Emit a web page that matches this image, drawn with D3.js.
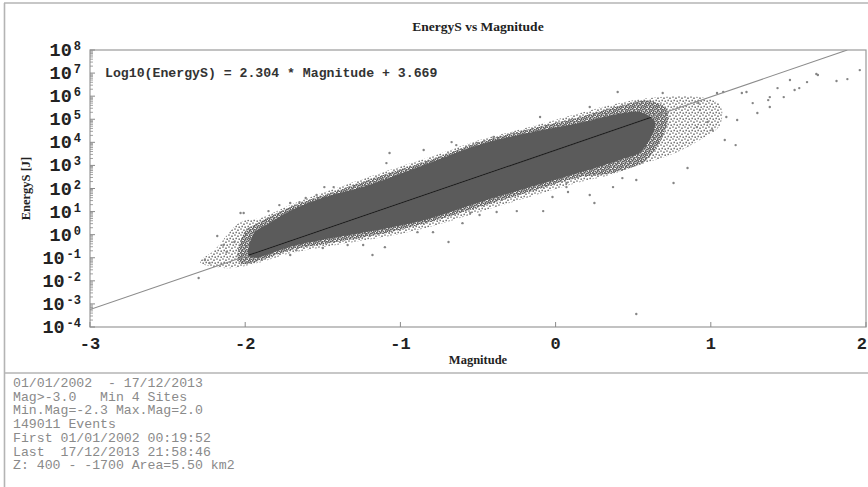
<!DOCTYPE html>
<html>
<head>
<meta charset="utf-8">
<script src="https://cdn.jsdelivr.net/npm/d3@7/dist/d3.min.js"></script>
<style>
  html, body { margin: 0; padding: 0; background: #fff; }
  svg { display: block; }
</style>
</head>
<body>
<script>
// ---------- data ----------
const chartTitle = "EnergyS vs Magnitude";
const xLabel = "Magnitude";
const yLabel = "EnergyS [J]";

// least-squares fit: log10(EnergyS) = slope * Magnitude + intercept
const fitSlope = 2.304;
const fitIntercept = 3.669;

const magTicks = [-3, -2, -1, 0, 1, 2];
const energyExponents = [-4, -3, -2, -1, 0, 1, 2, 3, 4, 5, 6, 7, 8];

// envelope of the solid, saturated part of the cloud (magnitude, log10 energy)
const coreUpperMag = [-1.98, -1.94, -1.84, -1.71, -1.50, -1.26, -1.07, -0.81, -0.49, -0.17, 0.16, 0.42, 0.55, 0.64];
const coreUpperLog = [-0.88, 0.08, 0.52, 1.04, 1.60, 2.03, 2.47, 3.12, 3.90, 4.42, 4.85, 5.25, 5.30, 4.85];
const coreLowerMag = [0.55, 0.42, 0.16, -0.17, -0.49, -0.81, -1.07, -1.50, -1.71, -1.94];
const coreLowerLog = [3.60, 3.25, 2.70, 2.05, 1.40, 0.70, 0.30, -0.22, -0.52, -1.00];

// dense speckled band hugging the core
const innerUpperMag = [-2.05, -2.00, -1.92, -1.71, -1.45, -1.07, -0.81, -0.49, -0.17, 0.16, 0.41, 0.60, 0.72];
const innerUpperLog = [-0.95, 0.15, 0.50, 1.20, 1.80, 2.67, 3.23, 4.01, 4.58, 5.10, 5.57, 5.80, 5.40];
const innerLowerMag = [0.70, 0.58, 0.48, 0.29, 0.16, -0.17, -0.49, -0.81, -1.07, -1.45, -1.71, -1.94, -2.03];
const innerLowerLog = [4.40, 3.20, 2.89, 2.58, 2.50, 1.85, 1.20, 0.55, 0.11, -0.36, -0.67, -1.19, -1.25];

// thin outer fringe
const fringeUpperMag = [-2.29, -2.20, -2.03, -1.90, -1.71, -1.45, -1.07, -0.81, -0.49, -0.17, 0.16, 0.41, 0.67, 0.93, 1.06];
const fringeUpperLog = [-1.19, -0.67, 0.55, 0.72, 1.28, 1.93, 2.80, 3.36, 4.10, 4.66, 5.27, 5.70, 5.96, 5.96, 5.62];
const fringeLowerMag = [1.06, 0.93, 0.74, 0.54, 0.35, 0.16, -0.17, -0.49, -0.81, -1.07, -1.45, -1.71, -1.90, -2.10];
const fringeLowerLog = [4.75, 4.10, 3.45, 3.02, 2.58, 2.28, 1.63, 0.98, 0.33, -0.06, -0.49, -0.80, -1.19, -1.45];

// isolated events outside the cloud
const outlierMag = [-2.30, -2.26, -2.23, -2.18, -2.14, -2.12, -2.07, -2.03, -2.01, -1.99, -1.85, -1.78, -1.71, -1.71, -1.67,
  -1.65, -1.61, -1.54, -1.50, -1.49, -1.43, -1.34, -1.24, -1.18, -1.10, -1.09, -1.07, -0.89, -0.85, -0.79,
  -0.69, -0.67, -0.64, -0.60, -0.55, -0.50, -0.49, -0.40, -0.38, -0.27, -0.25, -0.10, -0.08, -0.02, 0.07,
  0.07, 0.08, 0.09, 0.14, 0.22, 0.22, 0.25, 0.37, 0.40, 0.43, 0.52, 0.52, 0.52, 0.69, 0.76,
  0.85, 0.91, 0.92, 0.93, 0.98, 1.01, 1.04, 1.08, 1.09, 1.10, 1.16, 1.17, 1.20, 1.23, 1.27,
  1.30, 1.37, 1.38, 1.38, 1.43, 1.47, 1.51, 1.54, 1.57, 1.62, 1.68, 1.69, 1.81, 1.88, 1.96];
const outlierLog = [-1.88, -1.10, -1.23, -0.06, -0.45, -0.75, -0.32, 0.94, 0.94, -1.19, 1.02, 1.28, 1.37, -0.88, -0.67,
  1.41, 1.59, 1.72, -0.58, 2.06, 2.06, -0.45, -0.45, -0.88, -0.54, 3.10, 3.54, 0.11, 3.67, 0.11,
  -0.32, 4.01, 3.88, 0.50, 0.94, 3.97, 0.85, 4.23, 0.98, 4.40, 1.02, 5.10, 1.02, 1.63, 2.24,
  2.06, 1.85, 4.97, 2.50, 5.53, 1.72, 1.37, 2.06, 6.18, 2.45, 5.70, 2.37, -3.44, 6.14, 2.24,
  2.89, 4.66, 5.70, 5.40, 4.88, 4.53, 6.14, 6.18, 4.10, 5.10, 3.88, 4.97, 6.14, 6.18, 5.70,
  5.27, 5.83, 5.96, 5.53, 6.35, 5.96, 6.70, 6.27, 6.35, 6.61, 6.96, 6.92, 6.66, 6.74, 7.13];

const infoLines = [
  "01/01/2002  - 17/12/2013",
  "Mag>-3.0   Min 4 Sites",
  "Min.Mag=-2.3 Max.Mag=2.0",
  "149011 Events",
  "First 01/01/2002 00:19:52",
  "Last  17/12/2013 21:58:46",
  "Z: 400 - -1700 Area=5.50 km2"
];

// ---------- layout ----------
const W = 868, H = 487;
const plot = { left: 90, right: 866, top: 50, bottom: 327 };
const mono = "'Liberation Mono', 'DejaVu Sans Mono', monospace";
const serif = "'Liberation Serif', 'DejaVu Serif', serif";

const svg = d3.select("body").append("svg")
  .attr("width", W).attr("height", H)
  .attr("viewBox", `0 0 ${W} ${H}`);

const x = d3.scaleLinear().domain([-3, 2]).range([plot.left, plot.right]);
const y = d3.scaleLog().domain([1e-4, 1e8]).range([plot.bottom, plot.top]);
const yl = v => y(Math.pow(10, v));

// ---------- page frame ----------
const frame = svg.append("g").attr("stroke", "#b4b4b4").attr("stroke-width", 1.6).attr("fill", "none");
frame.append("line").attr("x1", 4).attr("x2", W).attr("y1", 3).attr("y2", 3);
frame.append("line").attr("x1", 4.5).attr("x2", 4.5).attr("y1", 3).attr("y2", H);
frame.append("line").attr("x1", 4).attr("x2", W).attr("y1", 373).attr("y2", 373);

// title
svg.append("text")
  .attr("x", (plot.left + plot.right) / 2).attr("y", 31)
  .attr("text-anchor", "middle")
  .attr("font-family", serif).attr("font-weight", "bold").attr("font-size", 13.5)
  .attr("fill", "#222")
  .text(chartTitle);

// ---------- clip & patterns ----------
const defs = svg.append("defs");
defs.append("clipPath").attr("id", "plot-clip")
  .append("rect")
  .attr("x", plot.left).attr("y", plot.top)
  .attr("width", plot.right - plot.left).attr("height", plot.bottom - plot.top);

function speckles(id, size, dots, r, colour) {
  const p = defs.append("pattern")
    .attr("id", id).attr("patternUnits", "userSpaceOnUse")
    .attr("width", size).attr("height", size);
  dots.forEach(([px, py]) => p.append("circle").attr("cx", px).attr("cy", py).attr("r", r).attr("fill", colour));
}
speckles("speckle-sparse", 6, [[1, 1], [4, 2.2], [2.2, 4.4], [5.2, 5.2]], 0.85, "#707070");
speckles("speckle-dense", 4, [[0.8, 0.8], [2.8, 1.6], [1.6, 3.0], [3.6, 3.6]], 0.95, "#5c5c5c");

const g = svg.append("g").attr("clip-path", "url(#plot-clip)");

// ---------- cloud ----------
const ring = (uM, uL, lM, lL) =>
  uM.map((m, i) => [x(m), yl(uL[i])]).concat(lM.map((m, i) => [x(m), yl(lL[i])]));
const closed = d3.line().curve(d3.curveCatmullRomClosed.alpha(0.5));

g.append("path")
  .attr("d", closed(ring(fringeUpperMag, fringeUpperLog, fringeLowerMag, fringeLowerLog)))
  .attr("fill", "url(#speckle-sparse)");

g.append("path")
  .attr("d", closed(ring(innerUpperMag, innerUpperLog, innerLowerMag, innerLowerLog)))
  .attr("fill", "url(#speckle-dense)");

const corePath = closed(ring(coreUpperMag, coreUpperLog, coreLowerMag, coreLowerLog));
g.append("path").attr("d", corePath).attr("fill", "#5b5b5b");
defs.append("clipPath").attr("id", "core-clip").append("path").attr("d", corePath);

g.append("g").selectAll("circle")
  .data(outlierMag.map((m, i) => [m, outlierLog[i]]))
  .join("circle")
  .attr("cx", d => x(d[0])).attr("cy", d => yl(d[1]))
  .attr("r", 1.2).attr("fill", "#858585");

// regression line: grey over the page, dark where it crosses the saturated core
const fitM = [-3, (8 - fitIntercept) / fitSlope];
const fitLine = sel => sel
  .attr("x1", x(fitM[0])).attr("y1", yl(fitSlope * fitM[0] + fitIntercept))
  .attr("x2", x(fitM[1])).attr("y2", yl(fitSlope * fitM[1] + fitIntercept));
g.append("line").call(fitLine).attr("stroke", "#8c8c8c").attr("stroke-width", 1.1);
g.append("line").call(fitLine).attr("clip-path", "url(#core-clip)")
  .attr("stroke", "#1e1e1e").attr("stroke-width", 1.2);

// ---------- plot box ----------
svg.append("rect")
  .attr("x", plot.left).attr("y", plot.top)
  .attr("width", plot.right - plot.left).attr("height", plot.bottom - plot.top)
  .attr("fill", "none").attr("stroke", "#9a9a9a").attr("stroke-width", 1.2);

// ---------- y axis ----------
const minor = [];
energyExponents.slice(0, -1).forEach(e => {
  for (let k = 2; k <= 9; k++) minor.push(k * Math.pow(10, e));
});
svg.append("g").selectAll("line").data(minor).join("line")
  .attr("x1", plot.left).attr("x2", plot.left + 3)
  .attr("y1", d => y(d)).attr("y2", d => y(d))
  .attr("stroke", "#8a8a8a").attr("stroke-width", 0.8);
svg.append("g").selectAll("line").data(energyExponents).join("line")
  .attr("x1", plot.left).attr("x2", plot.left + 5)
  .attr("y1", d => yl(d)).attr("y2", d => yl(d))
  .attr("stroke", "#8a8a8a").attr("stroke-width", 1);

const yLab = svg.append("g").selectAll("text").data(energyExponents).join("text")
  .attr("x", 81).attr("y", d => yl(d) + 6)
  .attr("text-anchor", "end")
  .attr("font-family", mono).attr("font-weight", "bold")
  .attr("fill", "#222");
yLab.append("tspan").attr("font-size", 18.5).text("10");
yLab.append("tspan").attr("font-size", 12).attr("dx", 2).attr("dy", -6).text(d => d);

svg.append("text")
  .attr("transform", `translate(30,${(plot.top + plot.bottom) / 2}) rotate(-90)`)
  .attr("text-anchor", "middle")
  .attr("font-family", serif).attr("font-weight", "bold").attr("font-size", 12.5)
  .attr("fill", "#222")
  .text(yLabel);

// ---------- x axis ----------
svg.append("g").selectAll("line").data(magTicks).join("line")
  .attr("x1", d => x(d)).attr("x2", d => x(d))
  .attr("y1", plot.bottom).attr("y2", plot.bottom - 5)
  .attr("stroke", "#8a8a8a").attr("stroke-width", 1);
const lastTick = magTicks[magTicks.length - 1];
svg.append("g").selectAll("text").data(magTicks).join("text")
  .attr("x", d => d === lastTick ? W - 1 : x(d)).attr("y", 349)
  .attr("text-anchor", d => d === lastTick ? "end" : "middle")
  .attr("font-family", mono).attr("font-weight", "bold").attr("font-size", 17)
  .attr("fill", "#222")
  .text(d => d);

svg.append("text")
  .attr("x", (plot.left + plot.right) / 2).attr("y", 364)
  .attr("text-anchor", "middle")
  .attr("font-family", serif).attr("font-weight", "bold").attr("font-size", 12.5)
  .attr("fill", "#222")
  .text(xLabel);

// ---------- fit equation ----------
svg.append("text")
  .attr("x", 105).attr("y", 77)
  .attr("font-family", mono).attr("font-weight", "bold").attr("font-size", 13.2)
  .attr("fill", "#333")
  .attr("xml:space", "preserve")
  .text(`Log10(EnergyS) = ${fitSlope} * Magnitude + ${fitIntercept}`);

// ---------- run summary ----------
svg.append("g").selectAll("text").data(infoLines).join("text")
  .attr("x", 13).attr("y", (d, i) => 387 + i * 13.7)
  .attr("font-family", mono).attr("font-size", 13.2)
  .attr("fill", "#8a8a8a")
  .style("white-space", "pre")
  .text(d => d);
</script>
</body>
</html>
